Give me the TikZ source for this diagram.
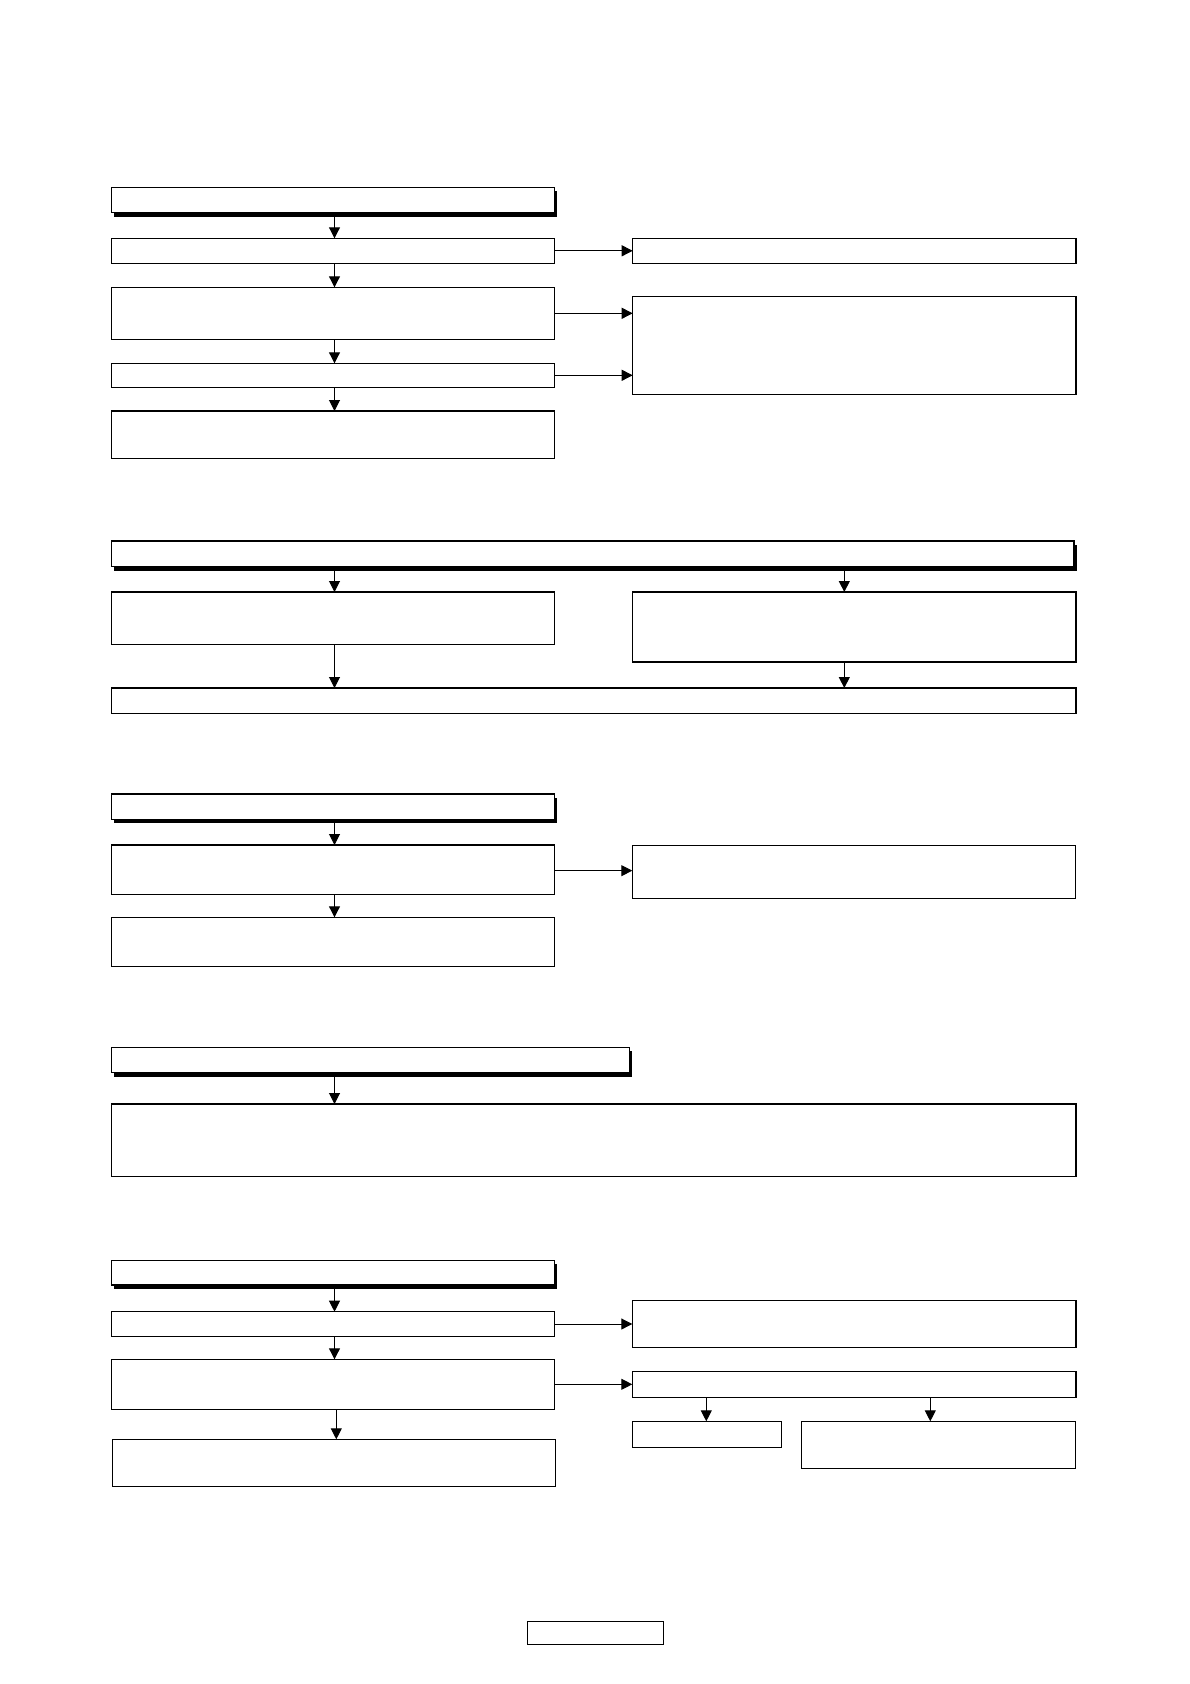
\documentclass[tikz,border=0pt]{standalone}
\usetikzlibrary{arrows.meta,shadows}
\newcommand\mkbox[6][]{%
  \pgfmathsetmacro\bxw{#5-#3}\pgfmathsetmacro\bxh{#6-#4}%
  \node[boxst,#1,minimum width=\bxw pt,minimum height=\bxh pt] (#2) at ({(#3+#5)/2},{(#4+#6)/2}) {};}
\begin{document}
\begin{tikzpicture}[x=1pt,y=-1pt,
  boxst/.style={draw=black,fill=white,line width=1.1pt,inner sep=0pt,outer sep=0pt,rectangle},
  hdrbox/.style={drop shadow={shadow xshift=2.5pt,shadow yshift=-4pt,fill=black,opacity=1}},
  arr/.style={-{Triangle[length=11pt,width=11pt]},line width=1pt}]
\fill[white] (0,0) rectangle (1190,1684);
\useasboundingbox (0,0) rectangle (1190,1684);
% column coordinates
\coordinate (cl) at (334.5,0);
\coordinate (cl2) at (336.3,0);
\coordinate (cr) at (844.3,0);
\coordinate (cf3) at (706.3,0);
\coordinate (cf4) at (930.3,0);
% Section 1
\mkbox[hdrbox]{h1}{111.3}{187.3}{554.3}{212.7}
\mkbox{a1}{111.3}{238.3}{554.3}{263.3}
\mkbox{a2}{111.3}{287.3}{554.3}{339.3}
\mkbox{a3}{111.3}{363.3}{554.3}{387.3}
\mkbox{a4}{111.3}{411}{554.3}{458.3}
\mkbox{r1}{632.7}{238.3}{1076}{263.3}
\mkbox{r2}{632.7}{296.3}{1076}{394.3}
\draw[arr] ([yshift=-4pt]h1.south -| cl) -- (a1.north -| cl);
\draw[arr] (a1.south -| cl) -- (a2.north -| cl);
\draw[arr] (a2.south -| cl) -- (a3.north -| cl);
\draw[arr] (a3.south -| cl) -- (a4.north -| cl);
\draw[arr] (a1.east) -- (a1.east -| r1.west);
\draw[arr] (a2.east) -- (a2.east -| r2.west);
\draw[arr] (a3.east) -- (a3.east -| r2.west);
% Section 2
\mkbox[hdrbox]{h2}{111.3}{541}{1074}{566.7}
\mkbox{b1}{111.3}{592}{554.3}{644.3}
\mkbox{b2}{632.3}{592}{1076}{662}
\mkbox{b3}{111.3}{688}{1076}{713.3}
\draw[arr] ([yshift=-4pt]h2.south -| cl) -- (b1.north -| cl);
\draw[arr] ([yshift=-4pt]h2.south -| cr) -- (b2.north -| cr);
\draw[arr] (b1.south -| cl) -- (b3.north -| cl);
\draw[arr] (b2.south -| cr) -- (b3.north -| cr);
% Section 3
\mkbox[hdrbox]{h3}{111.3}{794}{554.3}{819.3}
\mkbox{c1}{111.3}{845}{554.3}{894.3}
\mkbox{c2}{111.3}{917.3}{554.3}{966.7}
\mkbox{c3}{632.3}{845.3}{1075.3}{898.3}
\draw[arr] ([yshift=-4pt]h3.south -| cl) -- (c1.north -| cl);
\draw[arr] (c1.south -| cl) -- (c2.north -| cl);
\draw[arr] ([yshift=-1pt]c1.east) -- ([yshift=-1pt]c1.east -| c3.west);
% Section 4
\mkbox[hdrbox]{h4}{111.3}{1047.3}{629.7}{1072.7}
\mkbox{d1}{111.3}{1104}{1076}{1176.7}
\draw[arr] ([yshift=-4pt]h4.south -| cl) -- (d1.north -| cl);
% Section 5
\mkbox[hdrbox]{h5}{111.3}{1260.3}{554.3}{1285}
\mkbox{e1}{111.3}{1311.7}{554.3}{1336.3}
\mkbox{e2}{111.3}{1359.3}{554.3}{1409.3}
\mkbox{e3}{112.3}{1439.3}{555.3}{1486.3}
\mkbox{f1}{632.3}{1300.3}{1076}{1347.3}
\mkbox{f2}{632.3}{1371.3}{1076}{1397.3}
\mkbox{f3}{632.3}{1421.3}{781.3}{1447.3}
\mkbox{f4}{801.3}{1421.3}{1075.3}{1468.3}
\draw[arr] ([yshift=-4pt]h5.south -| cl) -- (e1.north -| cl);
\draw[arr] (e1.south -| cl) -- (e2.north -| cl);
\draw[arr] (e2.south -| cl2) -- (e3.north -| cl2);
\draw[arr] (e1.east) -- (e1.east -| f1.west);
\draw[arr] (e2.east) -- (e2.east -| f2.west);
\draw[arr] (f2.south -| cf3) -- (f3.north -| cf3);
\draw[arr] (f2.south -| cf4) -- (f4.north -| cf4);
% page box
\mkbox{pg}{527.3}{1621.3}{663.3}{1644.3}
\end{tikzpicture}
\end{document}
